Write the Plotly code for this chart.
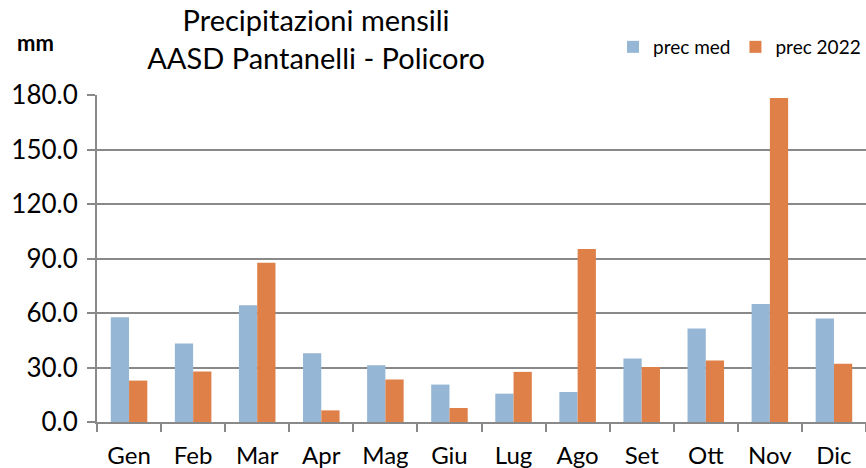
import plotly.graph_objects as go

months = ["Gen", "Feb", "Mar", "Apr", "Mag", "Giu", "Lug", "Ago", "Set", "Ott", "Nov", "Dic"]
prec_med = [57.7, 43.2, 64.3, 37.9, 31.2, 20.6, 15.6, 16.5, 34.9, 51.5, 65.0, 57.0]
prec_2022 = [22.8, 27.8, 87.6, 6.4, 23.4, 7.7, 27.6, 95.2, 30.3, 33.8, 178.3, 32.0]
y_ticks = [0, 30, 60, 90, 120, 150, 180]
y_tick_text = ["0.0", "30.0", "60.0", "90.0", "120.0", "150.0", "180.0"]

FONT = "Lato"
GRID = "#898989"

fig = go.Figure()
fig.add_trace(go.Bar(name="prec med", x=months, y=prec_med, marker=dict(color="#95B6D5", line=dict(width=0))))
fig.add_trace(go.Bar(name="prec 2022", x=months, y=prec_2022, marker=dict(color="#DE8048", line=dict(width=0))))

W, H = 866, 468
L, R, T, B = 97, 0, 95, 46
plot_w, plot_h = W - L - R, H - T - B

fig.update_layout(
    width=W, height=H,
    margin=dict(l=L, r=R, t=T, b=B, autoexpand=False),
    paper_bgcolor="white", plot_bgcolor="white",
    barmode="group", bargap=0.43, bargroupgap=0,
    font=dict(family=FONT, color="black"),
    title=dict(text="Precipitazioni mensili<br>AASD Pantanelli - Policoro",
               x=0.365, xanchor="center", y=0.934, yanchor="top", yref="container",
               font=dict(family=FONT, size=29, color="black")),
    legend=dict(orientation="h", x=1.0, xanchor="right", y=(H - B - 47) / plot_h, yanchor="middle",
                font=dict(family=FONT, size=19, color="black"), itemwidth=30,
                bgcolor="rgba(0,0,0,0)"),
    xaxis=dict(type="category", range=[-0.5, 11.5], showgrid=False,
               showline=True, linecolor=GRID, linewidth=2,
               ticks="outside", tickson="boundaries", ticklen=8, tickwidth=2, tickcolor=GRID,
               tickfont=dict(family=FONT, size=24, color="black"), ticklabelstandoff=11),
    yaxis=dict(range=[0, 180], tickvals=y_ticks, ticktext=y_tick_text,
               showgrid=True, gridcolor=GRID, gridwidth=2,
               showline=True, linecolor=GRID, linewidth=2, zeroline=False,
               ticks="outside", ticklen=8, tickwidth=2, tickcolor=GRID,
               tickfont=dict(family=FONT, size=26, color="black"), ticklabelstandoff=4),
    annotations=[dict(text="<b>mm</b>", x=(35 - L) / plot_w, y=(H - B - 42) / plot_h,
                      xref="paper", yref="paper", xanchor="center", yanchor="middle",
                      showarrow=False, font=dict(family=FONT, size=22, color="black"))],
)

fig.write_html("out.html", config={"displayModeBar": False},
               post_script="document.body.style.margin='0';")
